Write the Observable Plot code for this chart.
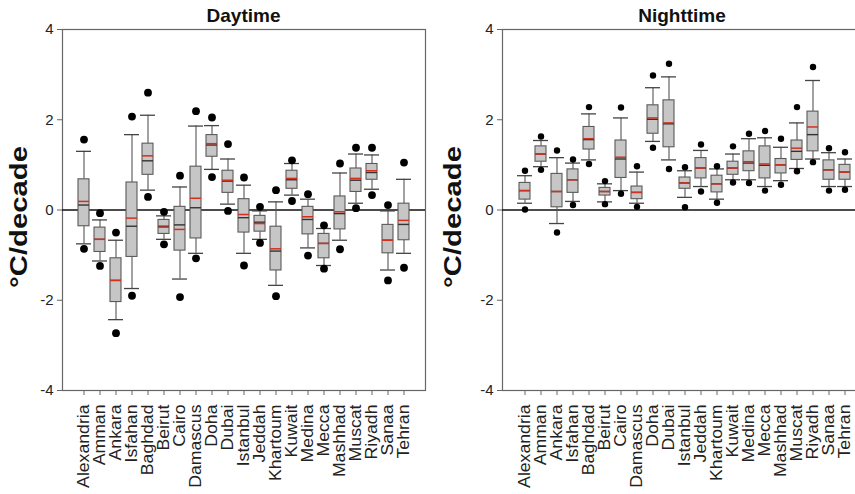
<!DOCTYPE html>
<html><head><meta charset="utf-8">
<script src="https://cdn.jsdelivr.net/npm/d3@7"></script>
<script src="https://cdn.jsdelivr.net/npm/@observablehq/plot@0.6"></script>
<style>
html,body{margin:0;padding:0;background:#fff;overflow:hidden;}
body{width:855px;height:494px;position:relative;font-family:"Liberation Sans",Arial,sans-serif}
.panel{position:absolute;top:0;height:494px;overflow:hidden}
.panel svg{max-width:none !important;display:block}
</style></head><body>
<div id="day" class="panel" style="left:0px;width:430px"></div>
<div id="night" class="panel" style="left:430px;width:425px"></div>
<script>
const cities = ["Alexandria","Amman","Ankara","Isfahan","Baghdad","Beirut","Cairo","Damascus","Doha","Dubai","Istanbul","Jeddah","Khartoum","Kuwait","Medina","Mecca","Mashhad","Muscat","Riyadh","Sanaa","Tehran"];
const yTicks = [-4, -2, 0, 2, 4];

// Daytime trends (°C/decade)
const dayOutHigh   = [1.56,-0.07,-0.50,2.07,2.60,-0.04,0.76,2.19,2.05,1.46,0.72,0.07,0.44,1.10,0.35,-0.34,1.03,1.38,1.38,0.11,1.05];
const dayWhiskHigh = [1.30,-0.22,-0.67,1.67,2.10,-0.13,0.51,1.86,1.87,1.13,0.55,-0.02,0.18,1.03,0.24,-0.41,0.82,1.24,1.22,-0.02,0.68];
const dayQ3        = [0.68,-0.39,-1.07,0.61,1.47,-0.22,0.07,0.96,1.66,0.87,0.24,-0.13,-0.37,0.87,0.07,-0.53,0.30,0.92,1.02,-0.33,0.14];
const dayMean      = [0.19,-0.65,-1.56,-0.18,1.20,-0.38,-0.43,0.26,1.47,0.66,-0.10,-0.30,-0.86,0.70,-0.15,-0.74,-0.04,0.70,0.87,-0.67,-0.23];
const dayMedian    = [0.11,-0.65,-1.56,-0.36,1.09,-0.36,-0.33,0.05,1.44,0.64,-0.17,-0.27,-0.91,0.67,-0.21,-0.74,-0.08,0.66,0.83,-0.67,-0.32];
const dayQ1        = [-0.36,-0.93,-2.04,-1.04,0.78,-0.53,-0.90,-0.63,1.18,0.38,-0.50,-0.48,-1.34,0.47,-0.54,-1.07,-0.43,0.40,0.67,-0.96,-0.67];
const dayWhiskLow  = [-0.75,-1.13,-2.43,-1.74,0.44,-0.65,-1.53,-0.96,0.90,0.13,-0.96,-0.65,-1.67,0.33,-0.84,-1.23,-0.67,0.15,0.46,-1.33,-0.96];
const dayOutLow    = [-0.86,-1.24,-2.73,-1.90,0.29,-0.76,-1.93,-1.07,0.73,-0.02,-1.23,-0.73,-1.91,0.20,-1.01,-1.30,-0.87,0.04,0.33,-1.56,-1.28];

// Nighttime trends (°C/decade)
const nightOutHigh   = [0.87,1.63,1.32,1.12,2.28,0.64,2.27,0.97,2.98,3.24,0.95,1.45,0.97,1.41,1.69,1.75,1.58,2.28,3.17,1.37,1.28];
const nightWhiskHigh = [0.76,1.54,1.16,1.04,2.13,0.58,2.04,0.84,2.71,2.95,0.87,1.32,0.91,1.24,1.58,1.60,1.39,1.93,2.87,1.27,1.13];
const nightQ3        = [0.60,1.41,0.80,0.90,1.84,0.49,1.54,0.52,2.32,2.43,0.72,1.15,0.76,1.07,1.30,1.41,1.13,1.54,2.18,1.10,1.00];
const nightMean      = [0.43,1.24,0.41,0.67,1.58,0.41,1.17,0.39,2.04,1.93,0.60,0.93,0.58,0.93,1.07,1.02,1.00,1.37,1.84,0.89,0.84];
const nightMedian    = [0.43,1.24,0.41,0.67,1.56,0.41,1.13,0.39,2.01,1.91,0.60,0.93,0.58,0.93,1.04,0.99,1.00,1.30,1.67,0.89,0.84];
const nightQ1        = [0.23,1.07,0.06,0.38,1.34,0.32,0.71,0.24,1.69,1.39,0.47,0.70,0.39,0.78,0.86,0.70,0.81,1.11,1.30,0.67,0.67];
const nightWhiskLow  = [0.15,0.96,-0.30,0.19,1.11,0.18,0.43,0.15,1.52,1.11,0.28,0.52,0.24,0.67,0.67,0.52,0.65,0.92,1.13,0.52,0.52];
const nightOutLow    = [0.01,0.89,-0.50,0.11,1.02,0.13,0.36,0.07,1.38,0.91,0.06,0.41,0.16,0.61,0.60,0.43,0.56,0.86,1.06,0.43,0.45];

const FONT = '"Liberation Sans", Arial, Helvetica, sans-serif';

function makePanel(el, title, s, o) {
  const rows = cities.map((c, i) => ({
    city: c, oh: s.oh[i], wh: s.wh[i], q3: s.q3[i], mean: s.mean[i],
    med: s.med[i], q1: s.q1[i], wl: s.wl[i], ol: s.ol[i]
  }));
  const plot = Plot.plot({
    width: o.width, height: 494,
    marginLeft: o.ml, marginRight: o.mr, marginTop: 29, marginBottom: 104,
    style: {fontFamily: FONT, color: "#222", background: "white", overflow: "visible", maxWidth: "none"},
    x: {type: "band", domain: cities, paddingInner: 0.32, paddingOuter: 0.8, label: null},
    y: {domain: [-4, 4], label: null},
    marks: [
      Plot.frame({stroke: "#666", strokeWidth: 1.2}),
      Plot.axisY({ticks: yTicks, tickFormat: d => String(d), tickSize: 5, tickPadding: 4, fontSize: 15, label: null, stroke: "#666"}),
      Plot.axisX({tickRotate: -90, tickSize: 5, tickPadding: 9, fontSize: 16.5, label: null, stroke: "#666"}),
      Plot.ruleY([0], {stroke: "#111", strokeWidth: 1.6}),
      Plot.ruleX(rows, {x: "city", y1: "wl", y2: "q1", stroke: "#555", strokeWidth: 1.1}),
      Plot.ruleX(rows, {x: "city", y1: "q3", y2: "wh", stroke: "#555", strokeWidth: 1.1}),
      Plot.tickY(rows, {x: "city", y: "wl", stroke: "#444", strokeWidth: 1.3, insetLeft: -2, insetRight: -2}),
      Plot.tickY(rows, {x: "city", y: "wh", stroke: "#444", strokeWidth: 1.3, insetLeft: -2, insetRight: -2}),
      Plot.barY(rows, {x: "city", y1: "q1", y2: "q3", fill: "#c6c6c6", stroke: "#5a5a5a", strokeWidth: 1.1}),
      Plot.tickY(rows, {x: "city", y: "med", stroke: "#333", strokeWidth: 1.4}),
      Plot.tickY(rows, {x: "city", y: "mean", stroke: "#d3301f", strokeWidth: 1.5}),
      Plot.dot(rows, {x: "city", y: "oh", r: o.r, fill: "#000", stroke: "none"}),
      Plot.dot(rows, {x: "city", y: "ol", r: o.r, fill: "#000", stroke: "none"})
    ]
  });
  const svg = d3.select(plot);
  // stretch rotated tick labels slightly along their length, like the reference
  svg.selectAll('g[aria-label="x-axis tick label"] text').each(function() {
    const t = this.getAttribute("transform") || "";
    this.setAttribute("transform", t + " scale(1.07,1)");
  });
  const fx0 = o.ml, fx1 = o.width - o.mr;
  svg.append("text")
    .attr("x", o.titleX ?? (fx0 + fx1) / 2).attr("y", 22)
    .attr("text-anchor", "middle")
    .style("font-family", FONT).style("font-weight", "bold").style("font-size", "19px").style("fill", "#111")
    .text(title);
  svg.append("text")
    .attr("transform", `translate(${o.labelX},217) rotate(-90)`)
    .attr("text-anchor", "middle")
    .attr("textLength", 142).attr("lengthAdjust", "spacingAndGlyphs")
    .style("font-family", FONT).style("font-weight", "bold").style("font-size", "23px").style("fill", "#111")
    .text("°C/decade");
  el.appendChild(plot);
}

makePanel(document.getElementById("day"), "Daytime",
  {oh: dayOutHigh, wh: dayWhiskHigh, q3: dayQ3, mean: dayMean, med: dayMedian, q1: dayQ1, wl: dayWhiskLow, ol: dayOutLow},
  {width: 430, ml: 62, mr: 5, r: 3.9, labelX: 27});
makePanel(document.getElementById("night"), "Nighttime",
  {oh: nightOutHigh, wh: nightWhiskHigh, q3: nightQ3, mean: nightMean, med: nightMedian, q1: nightQ1, wl: nightWhiskLow, ol: nightOutLow},
  {width: 440, ml: 72, mr: 4, r: 3.2, labelX: 31, titleX: 252});
</script>
</body></html>
